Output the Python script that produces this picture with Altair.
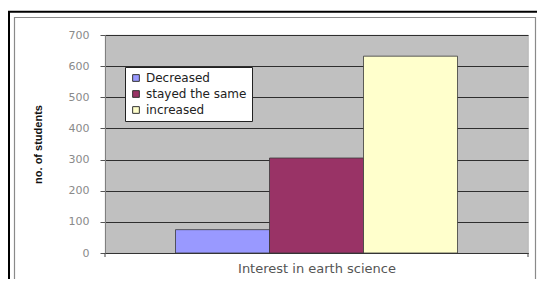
import altair as alt
import pandas as pd

categories = ["Decreased", "stayed the same", "increased"]
values = [75, 305, 632]
colors = ["#9999ff", "#993366", "#ffffcc"]
y_ticks = [0, 100, 200, 300, 400, 500, 600, 700]

df = pd.DataFrame({"series": categories, "students": values})
dummy = pd.DataFrame({"k": [0]})

W, H = 423, 218

bars = alt.Chart(df).mark_bar(stroke="#3a3a3a", strokeWidth=0.8).encode(
    x=alt.X("series:N", sort=categories,
            scale=alt.Scale(paddingInner=0, paddingOuter=0.75),
            axis=alt.Axis(title="Interest in earth science", labels=False, ticks=False,
                          domainColor="#333333", domainWidth=1.2,
                          titleFont="DejaVu Sans", titleFontSize=13, titleFontWeight="normal",
                          titleColor="#555555", titlePadding=9)),
    y=alt.Y("students:Q", scale=alt.Scale(domain=[0, 700], nice=False),
            axis=alt.Axis(title="no. of students", values=y_ticks, grid=True,
                          gridColor="#2e2e2e", gridWidth=1.2,
                          domainColor="#808080", domainWidth=1,
                          tickColor="#555555", tickSize=5, tickWidth=1,
                          labelColor="#8a8a8a", labelFont="DejaVu Sans", labelFontSize=11,
                          labelPadding=11,
                          titleFont="Liberation Sans", titleFontSize=11, titleFontWeight="bold",
                          titleColor="#111111", titleX=-67, titleY=109,
                          titleAlign="center", titleBaseline="middle", titleAngle=270)),
    color=alt.Color("series:N", sort=categories,
                    scale=alt.Scale(domain=categories, range=colors),
                    legend=alt.Legend(title=None, orient="none", legendX=20, legendY=32,
                                      fillColor="#ffffff", strokeColor="#222222",
                                      padding=5, rowPadding=4,
                                      symbolType="square", symbolSize=45,
                                      symbolStrokeColor="#333333", symbolStrokeWidth=1,
                                      labelFont="DejaVu Sans", labelFontSize=12,
                                      labelColor="#222222", labelOffset=4)),
)

end_ticks = alt.Chart(dummy).mark_rule(color="#444444", strokeWidth=1).encode(
    x=alt.value(0), y=alt.value(H), y2=alt.value(H + 4)
)
end_ticks2 = alt.Chart(dummy).mark_rule(color="#444444", strokeWidth=1).encode(
    x=alt.value(W), y=alt.value(H), y2=alt.value(H + 4)
)

outer = alt.Chart(dummy).mark_rect(fillOpacity=0, stroke="#000000", strokeWidth=2).encode(
    x=alt.value(-96), x2=alt.value(600), y=alt.value(-23.2), y2=alt.value(400)
)
inner = alt.Chart(dummy).mark_rect(fillOpacity=0, stroke="#8a8a8a", strokeWidth=1.2).encode(
    x=alt.value(-90.5), x2=alt.value(430.5), y=alt.value(-17.5), y2=alt.value(400)
)

chart = alt.layer(outer, inner, bars, end_ticks, end_ticks2).properties(
    width=W, height=H,
    autosize=alt.AutoSizeParams(type="none"),
    padding={"left": 97, "top": 27, "right": 9, "bottom": 26},
    background="#ffffff",
).configure_view(fill="#c0c0c0", stroke="#b0b0b0", strokeWidth=0.8)

chart.save("out.html", embed_options={"renderer": "svg", "actions": False})
